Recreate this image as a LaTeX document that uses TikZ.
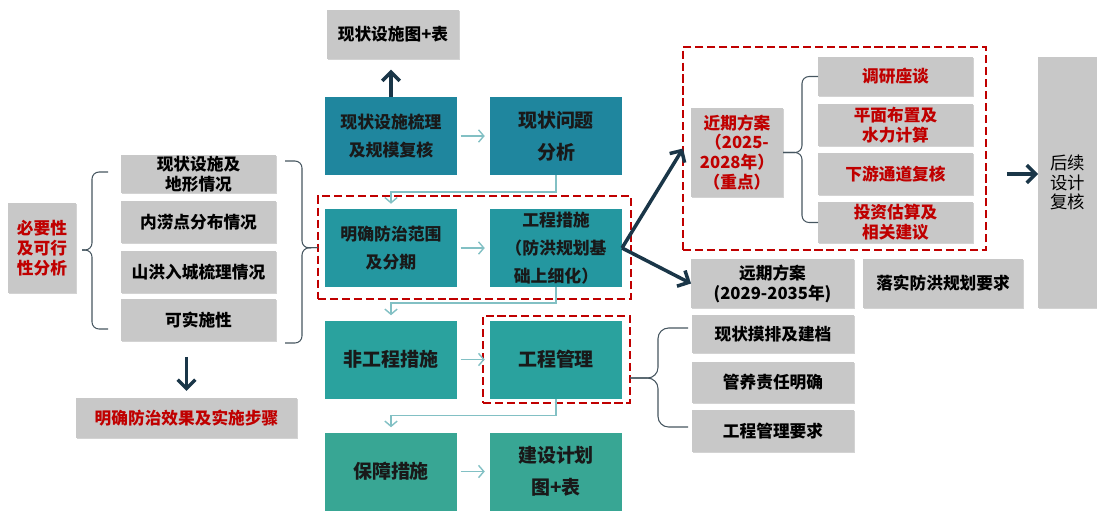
\documentclass[tikz,border=0pt]{standalone}
\usepackage{fontspec}
\setmainfont{Noto Sans CJK SC}
\usetikzlibrary{arrows.meta,shadows}
\definecolor{rowone}{RGB}{31,134,158}
\definecolor{rowtwo}{RGB}{36,151,160}
\definecolor{rowthree}{RGB}{42,162,158}
\definecolor{rowfour}{RGB}{56,166,148}
\definecolor{greyfill}{RGB}{200,200,200}
\definecolor{planred}{RGB}{192,0,0}
\definecolor{darkarrow}{RGB}{26,54,72}
\definecolor{thinline}{RGB}{130,192,196}
\definecolor{bracecol}{RGB}{70,86,96}

\begin{document}
\begin{tikzpicture}[x=0.02cm, y=-0.02cm,
		greybox/.style={fill=greyfill, align=center, inner sep=0pt, outer sep=0pt,
			font=\fontsize{9.5}{11.3}\selectfont\bfseries,
			drop shadow={shadow xshift=0.8pt, shadow yshift=-0.8pt, opacity=0.35, fill=black!50}},
		redtext/.style={text=planred},
		tealbox/.style={align=center, inner sep=0pt, outer sep=0pt, minimum width=2.64cm, minimum height=1.56cm,
			font=\fontsize{9.6}{15.9}\selectfont\bfseries, text=black!90},
		bigtext/.style={font=\fontsize{10.8}{18}\selectfont\bfseries},
		redframe/.style={draw=planred, line width=1.3pt, dash pattern=on 4.6pt off 2.2pt, inner sep=0pt, outer sep=0pt},
		thickarrow/.style={draw=darkarrow, line width=2pt, -{Straight Barb[length=5pt,width=10pt]}},
		thinarrow/.style={draw=thinline, line width=0.8pt, -{Straight Barb[length=3pt,width=7pt]}},
		bracket/.style={draw=bracecol, line width=0.6pt, rounded corners=4pt}]
			\useasboundingbox (0,0) rectangle (1097,511);

			% left: analysis
			\node (bys) [greybox, redtext, minimum width=1.36cm, minimum height=1.8cm] at (42,248) {必要性\\及可行\\性分析};
			\node (g1) [greybox, minimum width=3.1cm, minimum height=0.76cm] at (198.5,174) {现状设施及\\地形情况};
			\node (g2) [greybox, minimum width=3.1cm, minimum height=0.84cm] at (198.5,222) {内涝点分布情况};
			\node (g3) [greybox, minimum width=3.1cm, minimum height=0.84cm] at (198.5,272) {山洪入城梳理情况};
			\node (g4) [greybox, minimum width=3.1cm, minimum height=0.84cm] at (198.5,320) {可实施性};
			\node (mqxg) [greybox, redtext, minimum width=4.42cm, minimum height=0.8cm] at (186.5,418) {明确防治效果及实施步骤};

			% middle: main flow
			\node (xzt) [greybox, minimum width=2.64cm, minimum height=0.98cm] at (393,34.5) {现状设施图+表};
			\node (xzsl) [tealbox, fill=rowone] at (391,136) {现状设施梳理\\及规模复核};
			\node (xzwt) [tealbox, bigtext, fill=rowone] at (556,136) {现状问题\\分析};
			\node (mqff) [tealbox, fill=rowtwo] at (391,248) {明确防治范围\\及分期};
			\node (gcss) [tealbox, fill=rowtwo] at (556,248) {工程措施\\（防洪规划基\\础上细化）};
			\node (fgc) [tealbox, bigtext, fill=rowthree] at (391,359.5) {非工程措施};
			\node (gcgl) [tealbox, bigtext, fill=rowthree] at (556,359.5) {工程管理};
			\node (bzcs) [tealbox, bigtext, fill=rowfour] at (391,471.5) {保障措施};
			\node (jsjh) [tealbox, bigtext, fill=rowfour] at (556,471.5) {建设计划\\图+表};

			\node (fwkuang) [redframe, minimum width=6.26cm, minimum height=2.06cm] at (474.5,247.5) {};
			\node (glkuang) [redframe, minimum width=2.94cm, minimum height=1.74cm] at (556.5,359.5) {};

			% right: plans
			\node (jq) [greybox, redtext, minimum width=1.84cm, minimum height=1.78cm] at (737,152.5) {近期方案\\（2025-\\2028年）\\（重点）};
			\node (r1) [greybox, redtext, minimum width=3.1cm, minimum height=0.78cm] at (895.5,76.5) {调研座谈};
			\node (r2) [greybox, redtext, minimum width=3.1cm, minimum height=0.84cm] at (895.5,125) {平面布置及\\水力计算};
			\node (r3) [greybox, redtext, minimum width=3.1cm, minimum height=0.84cm] at (895.5,174) {下游通道复核};
			\node (r4) [greybox, redtext, minimum width=3.1cm, minimum height=0.82cm] at (895.5,222.5) {投资估算及\\相关建议};
			\node (jqkuang) [redframe, minimum width=6.06cm, minimum height=4.06cm] at (834.5,148.5) {};
			\node (yq) [greybox, minimum width=3.26cm, minimum height=0.98cm] at (772.5,283.5) {远期方案\\(2029-2035年)};
			\node (lsfh) [greybox, minimum width=3.2cm, minimum height=0.98cm] at (943,283.5) {落实防洪规划要求};
			\node (hx) [greybox, minimum width=1.18cm, minimum height=5.02cm, font=\fontsize{9.9}{11.3}\selectfont] at (1067.5,182.5) {后续\\设计\\复核};
			\node (m1) [greybox, minimum width=3.24cm, minimum height=0.76cm] at (773,334) {现状摸排及建档};
			\node (m2) [greybox, minimum width=3.24cm, minimum height=0.82cm] at (773,382.5) {管养责任明确};
			\node (m3) [greybox, minimum width=3.24cm, minimum height=0.84cm] at (773,431) {工程管理要求};

			% braces
			\draw[bracket] (108,172) -- (92,172) -- (92,250) -- (82,250);
			\draw[bracket] (82,250) -- (92,250) -- (92,329) -- (108,329);
			\draw[bracket] (285,161) -- (302,161) -- (302,248) -- (fwkuang.west);
			\draw[bracket] (fwkuang.west) -- (302,248) -- (302,343) -- (285,343);
			\draw[bracket] (r1.west) -- (802,76.5) -- (802,152.5) -- (jq.east);
			\draw[bracket] (jq.east) -- (802,152.5) -- (802,222.5) -- (r4.west);
			\draw[bracket, rounded corners=6pt] (688,328) -- (658,328) -- (658,378) -- (630,378);
			\draw[bracket, rounded corners=6pt] (630,378) -- (658,378) -- (658,427) -- (688,427);

			% thick arrows
			\draw[thickarrow, shorten >=6pt] (xzsl.north) -- (xzsl.north |- xzt.south);
			\draw[thickarrow, shorten <=9pt, shorten >=4pt] (mqxg.north |- g4.south) -- (mqxg.north);
			\draw[thickarrow] (gcss.east) -- (jqkuang.west);
			\draw[thickarrow] (gcss.east) -- (yq.west);
			\draw[thickarrow, shorten <=0.42cm] (jqkuang.east |- r3.west) -- (hx.west |- r3.west);

			% thin arrows
			\draw[thinarrow, shorten <=2pt, shorten >=3pt] (xzsl.east) -- (xzwt.west);
			\draw[thinarrow, shorten <=2pt, shorten >=3pt] (mqff.east) -- (gcss.west);
			\draw[thinarrow, shorten <=2pt, shorten >=3pt] (fgc.east) -- (gcgl.west);
			\draw[thinarrow, shorten <=2pt, shorten >=3pt] (bzcs.east) -- (jsjh.west);
			\draw[thinarrow, shorten >=3pt] (xzwt.south) -- ++(0,17) -| (mqff.north);
			\draw[thinarrow, shorten >=3pt] (gcss.south) -- ++(0,16) -| (fgc.north);
			\draw[thinarrow, shorten >=3pt] (gcgl.south) -- ++(0,17) -| (bzcs.north);
		\end{tikzpicture}
\end{document}
